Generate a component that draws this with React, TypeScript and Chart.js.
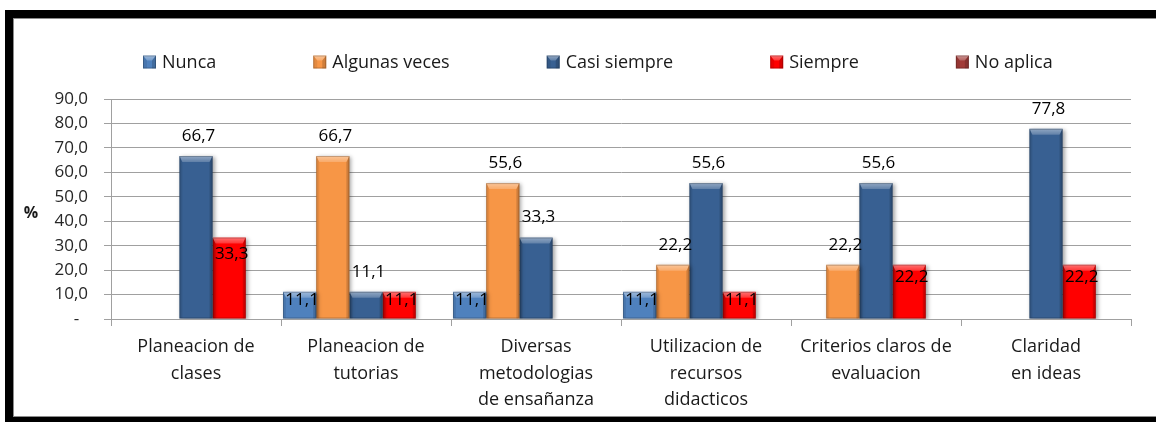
import { useEffect, useRef } from 'react';
import { Chart, registerables } from 'chart.js';

Chart.register(...registerables);

const FONT = "'Open Sans', 'Noto Sans', sans-serif";

// Survey categories (multi-line axis labels)
const categories: string[][] = [
  ['Planeacion de', 'clases'],
  ['Planeacion de', 'tutorias'],
  ['Diversas', 'metodologias', 'de ensañanza'],
  ['Utilizacion de', 'recursos', 'didacticos'],
  ['Criterios claros de', 'evaluacion'],
  ['Claridad', 'en ideas'],
];

const seriesNames = ['Nunca', 'Algunas veces', 'Casi siempre', 'Siempre', 'No aplica'];

// Percentages per answer option
const nunca: (number | null)[] = [null, 11.1, 11.1, 11.1, null, null];
const algunasVeces: (number | null)[] = [null, 66.7, 55.6, 22.2, 22.2, null];
const casiSiempre: (number | null)[] = [66.7, 11.1, 33.3, 55.6, 55.6, 77.8];
const siempre: (number | null)[] = [33.3, 11.1, null, 11.1, 22.2, 22.2];
const noAplica: (number | null)[] = [null, null, null, null, null, null];

const yMin = 0;
const yMax = 90;
const yStep = 10;

const seriesColors = ['#4F81BD', '#F79646', '#386092', '#FF0000', '#A23B38'];
// where each series puts its value label relative to the bar top
const labelPlacement = ['inside', 'outside', 'outside', 'inside', 'outside'];

const fmt = (v: number) => v.toFixed(1).replace('.', ',');

function bevel(ctx: CanvasRenderingContext2D, left: number, top: number, w: number, h: number, bt: number, bs: number) {
  const right = left + w;
  const bottom = top + h;
  // lit top facet
  const g = ctx.createLinearGradient(0, top, 0, top + bt);
  g.addColorStop(0, 'rgba(255,255,255,0.45)');
  g.addColorStop(1, 'rgba(255,255,255,0.2)');
  ctx.fillStyle = g;
  ctx.beginPath();
  ctx.moveTo(left, top);
  ctx.lineTo(right, top);
  ctx.lineTo(right - bs, top + bt);
  ctx.lineTo(left + bs, top + bt);
  ctx.closePath();
  ctx.fill();
  // left facet
  ctx.fillStyle = 'rgba(0,0,0,0.08)';
  ctx.beginPath();
  ctx.moveTo(left, top);
  ctx.lineTo(left + bs, top + bt);
  ctx.lineTo(left + bs, bottom);
  ctx.lineTo(left, bottom);
  ctx.closePath();
  ctx.fill();
  // right facet
  ctx.fillStyle = 'rgba(0,0,0,0.16)';
  ctx.beginPath();
  ctx.moveTo(right, top);
  ctx.lineTo(right, bottom);
  ctx.lineTo(right - bs, bottom);
  ctx.lineTo(right - bs, top + bt);
  ctx.closePath();
  ctx.fill();
  // outline
  ctx.strokeStyle = 'rgba(0,0,0,0.22)';
  ctx.lineWidth = 1;
  ctx.strokeRect(left + 0.5, top + 0.5, w - 1, h - 1);
}

const barDecor = {
  id: 'barDecor',
  beforeDatasetsDraw(chart: any) {
    const ctx = chart.ctx;
    ctx.save();
    ctx.shadowColor = 'rgba(0,0,0,0.35)';
    ctx.shadowBlur = 4;
    ctx.shadowOffsetX = 2;
    ctx.shadowOffsetY = 1;
  },
  afterDatasetsDraw(chart: any) {
    const ctx: CanvasRenderingContext2D = chart.ctx;
    ctx.restore();
    ctx.save();
    // bevel facets
    chart.data.datasets.forEach((ds: any, di: number) => {
      const meta = chart.getDatasetMeta(di);
      meta.data.forEach((el: any, i: number) => {
        if (ds.data[i] == null) return;
        const { x, y, base, width } = el.getProps(['x', 'y', 'base', 'width'], true);
        bevel(ctx, x - width / 2, y, width, base - y, 6, 3);
      });
    });
    // value labels
    ctx.font = `17px ${FONT}`;
    ctx.fillStyle = '#000';
    ctx.textAlign = 'center';
    ctx.textBaseline = 'middle';
    chart.data.datasets.forEach((ds: any, di: number) => {
      const meta = chart.getDatasetMeta(di);
      meta.data.forEach((el: any, i: number) => {
        const v = ds.data[i];
        if (v == null) return;
        const { x, y, base } = el.getProps(['x', 'y', 'base'], true);
        const h = base - y;
        const cy = labelPlacement[di] === 'outside' ? y - 20 : y + 4 + 0.16 * h;
        ctx.fillText(fmt(v), x + 2.5, cy);
      });
    });
    ctx.restore();
  },
};

const legendAndUnit = {
  id: 'legendAndUnit',
  afterDraw(chart: any) {
    const ctx: CanvasRenderingContext2D = chart.ctx;
    ctx.save();
    // legend row
    ctx.font = `18px ${FONT}`;
    ctx.textBaseline = 'middle';
    ctx.textAlign = 'left';
    const box = 13;
    const cy = 62;
    let x = 143;
    seriesNames.forEach((name, i) => {
      ctx.fillStyle = seriesColors[i];
      ctx.fillRect(x, cy - box / 2, box, box);
      bevel(ctx, x, cy - box / 2, box, box, 5, 4);
      ctx.fillStyle = '#1a1a1a';
      ctx.fillText(name, x + box + 6, cy + 1);
      x += box + 6 + ctx.measureText(name).width + 97;
    });
    // unit label of the value axis
    ctx.font = `bold 16px ${FONT}`;
    ctx.textAlign = 'center';
    ctx.fillStyle = '#1a1a1a';
    ctx.fillText('%', 31, 213);
    ctx.restore();
  },
};

export default function App() {
  const canvasRef = useRef<HTMLCanvasElement | null>(null);

  useEffect(() => {
    if (!canvasRef.current) return;
    const seriesData = [nunca, algunasVeces, casiSiempre, siempre, noAplica];
    const chart = new Chart(canvasRef.current, {
      type: 'bar',
      data: {
        labels: categories,
        datasets: seriesNames.map((name, i) => ({
          label: name,
          data: seriesData[i],
          backgroundColor: seriesColors[i],
          borderWidth: 0,
          categoryPercentage: 0.976,
          barPercentage: 1,
        })),
      },
      options: {
        responsive: false,
        animation: false,
        layout: { padding: { top: 99, right: 25, left: 0, bottom: 0 } },
        plugins: {
          legend: { display: false },
          tooltip: { enabled: false },
        },
        scales: {
          x: {
            afterFit: (s: any) => {
              s.height = 103;
            },
            grid: {
              drawOnChartArea: false,
              drawTicks: true,
              tickLength: 7,
              color: '#a0a0a0',
              offset: true,
            },
            border: { display: true, color: '#a0a0a0' },
            ticks: {
              font: { family: FONT, size: 18, lineHeight: 1.47 },
              color: '#1a1a1a',
              padding: 8,
              maxRotation: 0,
              autoSkip: false,
            },
          },
          y: {
            min: yMin,
            max: yMax,
            afterFit: (s: any) => {
              s.width = 111;
            },
            grid: {
              color: '#a0a0a0',
              tickLength: 7,
            },
            border: { display: true, color: '#a0a0a0' },
            ticks: {
              stepSize: yStep,
              font: { family: FONT, size: 17 },
              color: '#262626',
              padding: 16,
              callback: (v: any) => (Number(v) === 0 ? '-  ' : fmt(Number(v))),
            },
          },
        },
      },
      plugins: [barDecor, legendAndUnit],
    });
    return () => chart.destroy();
  }, []);

  return (
    <div
      style={{
        position: 'fixed',
        left: 0,
        top: 0,
        width: 1156,
        height: 422,
        background: '#fff',
        overflow: 'hidden',
      }}
    >
      <div
        style={{
          position: 'absolute',
          left: 5,
          top: 10,
          width: 1170,
          height: 415,
          border: '8px solid #000',
          boxSizing: 'border-box',
        }}
      >
        <div style={{ position: 'absolute', inset: 0, border: '1px solid #8c8c8c' }} />
      </div>
      <canvas
        ref={canvasRef}
        width={1156}
        height={422}
        style={{ position: 'absolute', left: 0, top: 0, width: 1156, height: 422 }}
      />
    </div>
  );
}
